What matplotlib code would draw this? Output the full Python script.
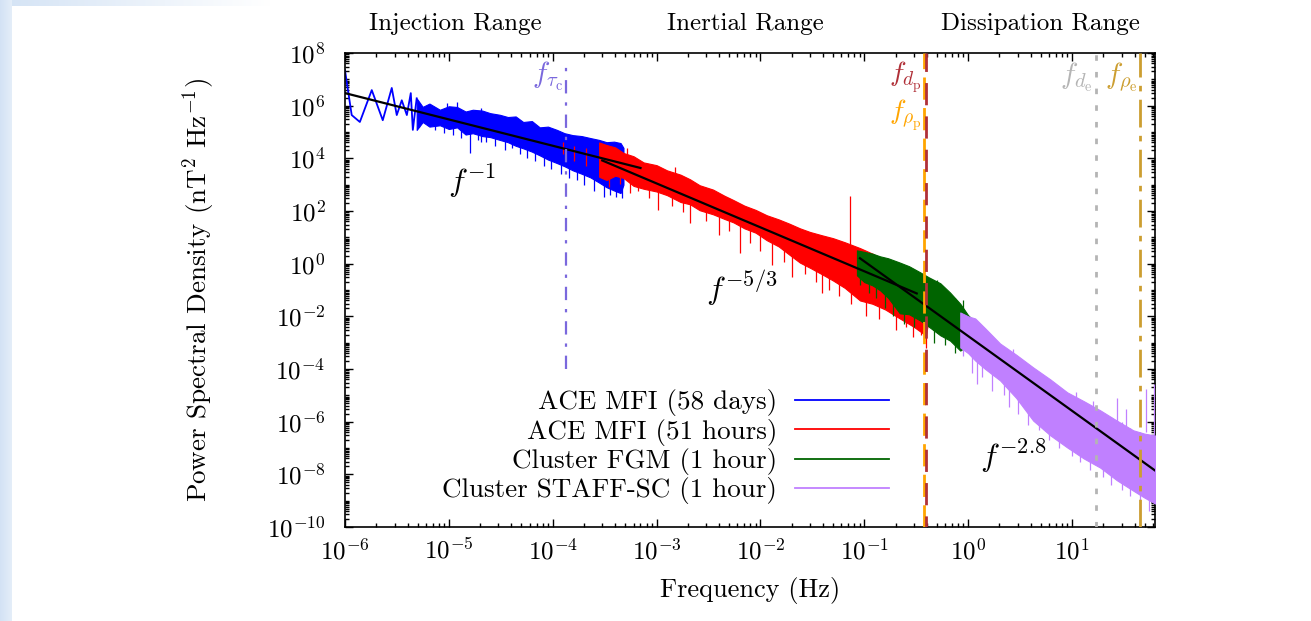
import numpy as np
import matplotlib
matplotlib.use('Agg')
import matplotlib.pyplot as plt
from matplotlib.ticker import LogLocator, LogFormatterSciNotation, NullFormatter
from matplotlib.lines import Line2D

plt.rcParams['font.family'] = ['cmr10']
plt.rcParams['mathtext.fontset'] = 'cm'
plt.rcParams['axes.formatter.use_mathtext'] = True
plt.rcParams['axes.unicode_minus'] = False

# ---------------- data ----------------
# ACE MFI (58 days): low-frequency line part
blue_line_f = [1.0e-6, 1.16e-6, 1.39e-6, 1.81e-6, 2.31e-6, 2.82e-6, 3.15e-6, 3.52e-6,
               3.94e-6, 4.3e-6, 4.5e-6, 4.9e-6]
blue_line_psd = [2.2e7, 4.4e5, 2.4e5, 3.9e6, 2.8e5, 4.7e6, 4.4e5, 1.6e6,
                 4.4e5, 3.0e6, 1.2e5, 1.9e6]
# ACE MFI (58 days): dense part (envelope)
blue_f = [4.9e-6, 5.6e-6, 6.5e-6, 8.2e-6, 1.0e-5, 1.2e-5, 1.45e-5, 1.7e-5, 2.1e-5, 2.5e-5,
          3.1e-5, 3.7e-5, 4.4e-5, 5.2e-5, 6.3e-5, 7.5e-5, 9e-5, 1.1e-4, 1.3e-4, 1.56e-4,
          1.9e-4, 2.3e-4, 2.8e-4, 3.3e-4, 3.9e-4, 4.5e-4, 4.8e-4]
blue_hi = [1.9e6, 9e5, 1.2e6, 7e5, 9.5e5, 8.9e5, 6e5, 7e5, 6.5e5, 5.2e5,
           4.5e5, 3.7e5, 3.9e5, 2.4e5, 2.6e5, 1.5e5, 1.6e5, 1.2e5, 9e4, 7.6e4,
           7e4, 5.9e4, 5e4, 4.1e4, 4.3e4, 3.8e4, 2.5e4]
blue_lo = [1.2e5, 2.4e5, 1.6e5, 1.8e5, 1.3e5, 1.5e5, 8e4, 9e4, 7e4, 6.4e4,
           5e4, 4.1e4, 3e4, 2.4e4, 1.8e4, 1.3e4, 9e3, 6.6e3, 5e3, 3.5e3,
           2.6e3, 1.9e3, 1.2e3, 8e2, 6e2, 4.8e2, 1e3]
blue_spike_f = [5.2e-6, 7.3e-6, 9e-6, 9.5e-6, 1.1e-5, 1.2e-5, 1.3e-5, 1.6e-5, 1.9e-5, 2.05e-5,
                2.3e-5, 2.8e-5, 3.5e-5, 4.1e-5, 4.8e-5, 5.6e-5, 6.8e-5, 8.2e-5, 9.7e-5, 1.2e-4,
                1.45e-4, 1.7e-4, 2e-4, 2.5e-4, 3.1e-4, 3.6e-4, 4.1e-4, 4.6e-4]
blue_spike_lo = [1.5e5, 1.2e5, 9e4, 3e5, 8e4, 3e5, 6e4, 1.6e4, 5e4, 4e4,
                 4e4, 3e4, 2e4, 2.5e4, 1.5e4, 1e4, 8e3, 5e3, 4e3, 2.5e3,
                 1.8e3, 1.5e3, 1e3, 6e2, 3.3e2, 4e2, 3.5e2, 3e2]
blue_spike_hi = [8e5, 6e5, 5e5, 1.3e6, 4e5, 1.4e6, 3e5, 2e5, 3e5, 8e5,
                 2e5, 1.5e5, 1e5, 1e5, 6e4, 5e4, 4e4, 2.5e4, 2e4, 1.5e4,
                 1.2e4, 8e3, 6e3, 5e3, 3e3, 3e3, 2e3, 2e3]

# ACE MFI (51 hours)
red_f = [2.8e-4, 3.3e-4, 4e-4, 4.8e-4, 6e-4, 7.5e-4, 1e-3, 1.26e-3, 1.7e-3, 2.1e-3,
         2.6e-3, 3.5e-3, 4.5e-3, 5.5e-3, 7e-3, 9e-3, 1.15e-2, 1.5e-2, 1.9e-2, 2.4e-2,
         3e-2, 3.9e-2, 5e-2, 6.5e-2, 9.1e-2, 0.12, 0.16, 0.22, 0.3, 0.39, 0.41]
red_hi = [4e4, 3.2e4, 2.6e4, 1.6e4, 1.2e4, 7e3, 5.5e3, 3.5e3, 2.4e3, 1.6e3,
          9.5e2, 6.5e2, 3.8e2, 2.6e2, 1.6e2, 1.1e2, 69, 48, 33, 22,
          16, 12, 9.3, 6.5, 3.9, 2.4, 1.3, 0.68, 0.35, 0.19, 0.15]
red_lo = [2e3, 1.5e3, 2.2e3, 1.8e3, 9e2, 7e2, 5.5e2, 4e2, 2.2e2, 1.8e2,
          1.07e2, 75, 50, 37, 22, 15, 7.8, 4.5, 2.2, 1.1,
          0.7, 0.4, 0.23, 0.12, 0.04, 0.03, 0.018, 8.3e-3, 4e-3, 1.9e-3, 5e-3]
red_spike_f = [1.25e-4, 1.6e-4, 2.1e-4, 3.5e-4, 4.4e-4, 5.5e-4, 6.6e-4, 8.5e-4, 1.03e-3, 1.4e-3,
               1.8e-3, 2.1e-3, 3e-3, 4e-3, 5e-3, 6.3e-3, 8e-3, 1e-2, 1.3e-2, 1.7e-2,
               2e-2, 2.7e-2, 3.4e-2, 3.9e-2, 4.6e-2, 5.7e-2, 0.073, 0.075, 0.104, 0.14,
               0.2, 0.25, 0.295, 0.35, 0.39, 1.5e-3, 5.2e-4]
red_spike_lo = [1.5e4, 8e3, 5e3, 8e2, 1.1e3, 5e2, 6e2, 3e2, 1.07e2, 1.5e2,
                90, 35, 40, 12, 18, 2.5, 6, 3, 0.87, 1.2,
                0.3, 0.4, 0.2, 0.074, 0.1, 0.06, 3.0, 0.03, 0.01, 8e-3,
                3e-3, 4e-3, 1.6e-3, 2e-3, 6.3e-4, 1e3, 5e3]
red_spike_hi = [4e4, 3e4, 2.5e4, 2e4, 1.5e4, 1e4, 8e3, 5e3, 3e3, 2.5e3,
                2e3, 8e2, 7e2, 3e2, 3e2, 1e2, 1e2, 60, 40, 30,
                20, 15, 12, 8, 8, 6, 3.6e2, 4, 2, 1.5,
                0.5, 0.4, 0.2, 0.2, 0.1, 4.5e3, 2.5e4]

# Cluster FGM (1 hour)
green_f = [0.085, 0.1, 0.12, 0.142, 0.17, 0.22, 0.27, 0.345, 0.42, 0.54, 0.67, 0.84, 1.0, 1.17]
green_hi = [3.2, 2.8, 2.4, 1.9, 1.6, 1.1, 0.8, 0.47, 0.3, 0.18, 0.08, 0.03, 0.011, 6e-3]
green_lo = [0.36, 0.2, 0.15, 0.098, 0.05, 0.013, 0.012, 7e-3, 4e-3, 1.9e-3, 1.2e-3, 5e-4, 8e-4, 1.6e-3]
green_spike_f = [0.09, 0.11, 0.13, 0.16, 0.19, 0.24, 0.3, 0.38, 0.47, 0.6, 0.75, 0.5, 0.9]
green_spike_lo = [0.15, 0.08, 0.05, 0.02, 0.01, 5e-3, 4e-3, 2e-3, 1e-3, 8e-4, 4e-4, 0.05, 0.01]
green_spike_hi = [2, 2.5, 2, 1.5, 1, 0.8, 0.5, 0.3, 0.2, 0.1, 0.05, 0.25, 0.04]

# Cluster STAFF-SC (1 hour)
purple_f = [0.84, 1.0, 1.17, 1.46, 2.03, 2.9, 4.23, 6.2, 9.0, 13, 18.7, 27, 38.9, 50, 63]
purple_hi = [1.4e-2, 1.0e-2, 8.3e-3, 3.5e-3, 9.3e-4, 3.5e-4, 1.15e-4, 4e-5, 1.3e-5, 6e-6,
             2.7e-6, 1.1e-6, 4.7e-7, 3.5e-7, 3e-7]
purple_lo = [6.6e-4, 4e-4, 2.1e-4, 1e-4, 3.7e-5, 8e-6, 1.1e-6, 3e-7, 1.05e-7, 4e-8,
             1.8e-8, 6e-9, 2.4e-9, 1.3e-9, 7.8e-10]
purple_spike_f = [0.9, 1.1, 1.22, 1.35, 1.7, 2.2, 2.5, 3.0, 3.8, 4.8,
                  6, 7.5, 10, 12, 15, 20, 24, 30, 36, 45,
                  55, 11, 16, 27, 33, 52, 62, 2.7]
purple_spike_lo = [3e-4, 6.8e-5, 2.8e-5, 5e-5, 1.5e-5, 1e-5, 3.5e-6, 2e-6, 7.2e-7, 5e-7,
                   2e-7, 1e-7, 5e-8, 3e-8, 1.5e-8, 8e-9, 4e-9, 2.5e-9, 1.5e-9, 2.7e-10,
                   4e-10, 1e-6, 5e-7, 1e-6, 3e-7, 4e-7, 3e-7, 1e-4]
purple_spike_hi = [1e-2, 5e-3, 3e-3, 3e-3, 1e-3, 5e-4, 2e-4, 2e-4, 1e-4, 5e-5,
                   3e-5, 1e-5, 6e-6, 5e-6, 3e-6, 2e-6, 1.5e-6, 1e-6, 6e-7, 4e-7,
                   3e-7, 1.3e-5, 6e-6, 7.6e-6, 3e-6, 1.8e-5, 2.8e-5, 6e-4]

# power-law fits (black)
fit1_f, fit1_psd = [1e-6, 7e-4], [3.0e6, 4.3e3]
fit2_f, fit2_psd = [3e-4, 0.32], [8.3e3, 0.074]
fit3_f, fit3_psd = [0.091, 63], [1.6, 1.4e-8]

# characteristic frequencies
f_tau_c = 1.34e-4
f_rho_p = 0.377
f_d_p = 0.394
f_d_e = 17.0
f_rho_e = 45.4

legend_labels = ['ACE MFI (58 days)', 'ACE MFI (51 hours)',
                 'Cluster FGM (1 hour)', 'Cluster STAFF-SC (1 hour)']
c_blue, c_red, c_green, c_purple = '#0000ff', '#ff0000', '#006400', '#c080ff'

# ---------------- figure ----------------
W, H = 1311, 621
fig = plt.figure(figsize=(W / 100, H / 100), dpi=100)

# slide background decoration
bg = fig.add_axes([0, 0, 1, 1], zorder=-10)
img = np.ones((H, W, 3))
base = np.array([0.83, 0.89, 0.96])
for x in range(12):
    img[:, x, :] = base + (np.array([1, 1, 1]) - base) * (x / 30.0)
for x in range(12, 270):
    t = x / 270.0
    img[0:6, x, :] = base + (np.array([1, 1, 1]) - base) * t
bg.imshow(img, aspect='auto', extent=[0, 1, 0, 1])
bg.axis('off')

L, R, T, B = 345, 1155, 53, 527
ax = fig.add_axes([L / W, 1 - B / H, (R - L) / W, (B - T) / H])
ax.set_xscale('log')
ax.set_yscale('log')
ax.set_xlim(1e-6, 63)
ax.set_ylim(1e-10, 1e8)

SW = 0.9
# spectra
ax.plot(blue_line_f, blue_line_psd, color=c_blue, lw=1.3, zorder=2)
ax.fill_between(blue_f, blue_lo, blue_hi, facecolor=c_blue, edgecolor=c_blue, lw=0.8, zorder=2)
ax.vlines(blue_spike_f, blue_spike_lo, blue_spike_hi, color=c_blue, lw=SW, zorder=2)

ax.fill_between(red_f, red_lo, red_hi, facecolor=c_red, edgecolor=c_red, lw=0.8, zorder=3)
ax.vlines(red_spike_f, red_spike_lo, red_spike_hi, color=c_red, lw=SW, zorder=3)

ax.fill_between(green_f, green_lo, green_hi, facecolor=c_green, edgecolor=c_green, lw=0.8, zorder=4)
ax.vlines(green_spike_f, green_spike_lo, green_spike_hi, color=c_green, lw=SW, zorder=4)

ax.fill_between(purple_f, purple_lo, purple_hi, facecolor=c_purple, edgecolor=c_purple, lw=0.8, zorder=5)
ax.vlines(purple_spike_f, purple_spike_lo, purple_spike_hi, color=c_purple, lw=SW, zorder=5)

# fits
for ff, pp in [(fit1_f, fit1_psd), (fit2_f, fit2_psd), (fit3_f, fit3_psd)]:
    ax.plot(ff, pp, color='black', lw=1.6, zorder=8)

# characteristic frequency lines
ax.plot([f_tau_c, f_tau_c], [1e-4, 5e7], color='#7a68dd', lw=1.6,
        ls=(0, (6, 4, 1.5, 4)), zorder=9)
ax.axvline(f_rho_p, color='#ffa500', lw=2.0, ls=(0, (8, 3)), zorder=9)
ax.axvline(f_d_p, color='#b03038', lw=2.0, ls=(4, (8, 4)), zorder=9)
ax.axvline(f_d_e, color='#b4b4b4', lw=2.0, ls=(0, (2, 4)), zorder=9)
ax.axvline(f_rho_e, color='#cc9e30', lw=2.0, ls=(0, (10, 3, 2, 3)), zorder=9)

def axfrac(px, py):
    return (px - L) / (R - L), (B - py) / (B - T)

def label(px, py, s, color, fs=21, ha='center'):
    x, y = axfrac(px, py)
    ax.text(x, y, s, transform=ax.transAxes, color=color, fontsize=fs,
            ha=ha, va='center', zorder=10)

label(548, 76, r'$f_{\tau_{\rm c}}$', '#7a68dd')
label(922, 77, r'$f_{d_{\rm p}}$', '#b03038', ha='right', fs=20)
label(922, 115, r'$f_{\rho_{\rm p}}$', '#ffa500', ha='right', fs=20)
label(1093, 77, r'$f_{d_{\rm e}}$', '#b4b4b4', ha='right')
label(1121, 77, r'$f_{\rho_{\rm e}}$', '#cc9e30')
label(472, 181, r'$f^{-1}$', 'black', fs=23)
label(742, 288, r'$f^{-5/3}$', 'black', fs=23)
label(1013, 456, r'$f^{-2.8}$', 'black', fs=23)

# range labels above the axes
for cx, s in [(455, 'Injection Range'), (745, 'Inertial Range'), (1040, 'Dissipation Range')]:
    fig.text(cx / W, 1 - 30 / H, s, ha='center', va='baseline', fontsize=18)

# ticks
ax.xaxis.set_major_locator(LogLocator(base=10, numticks=20))
ax.xaxis.set_minor_locator(LogLocator(base=10, subs=np.arange(2, 10), numticks=20))
ax.xaxis.set_minor_formatter(NullFormatter())
ax.yaxis.set_major_locator(LogLocator(base=100, numticks=20))
ax.yaxis.set_major_formatter(LogFormatterSciNotation(base=10))
ax.yaxis.set_minor_locator(LogLocator(base=10, subs=np.arange(1, 10), numticks=40))
ax.yaxis.set_minor_formatter(NullFormatter())
ax.tick_params(which='both', direction='in', top=True, right=True, width=1.0)
ax.tick_params(which='major', length=6)
ax.tick_params(which='minor', length=3)
ax.tick_params(axis='x', which='major', labelsize=18, pad=8)
ax.tick_params(axis='y', which='major', labelsize=18, pad=14)
for sp in ax.spines.values():
    sp.set_linewidth(1.2)

ax.set_xlabel('Frequency (Hz)', fontsize=19)
ax.set_ylabel(r'Power Spectral Density (nT$^2$ Hz$^{-1}$)', fontsize=19.5)
ax.xaxis.set_label_coords(0.5, -0.105)
ax.yaxis.set_label_coords(-0.158, 0.5)

handles = [Line2D([], [], color=c, lw=1.3) for c in (c_blue, c_red, c_green, c_purple)]
ax.legend(handles, legend_labels, loc='center right', bbox_to_anchor=(0.672, 0.169),
          frameon=False, markerfirst=False, handlelength=3.5, handletextpad=0.65,
          labelspacing=0.085, fontsize=19.5, borderpad=0, borderaxespad=0)

fig.savefig('out.png', dpi=100)
